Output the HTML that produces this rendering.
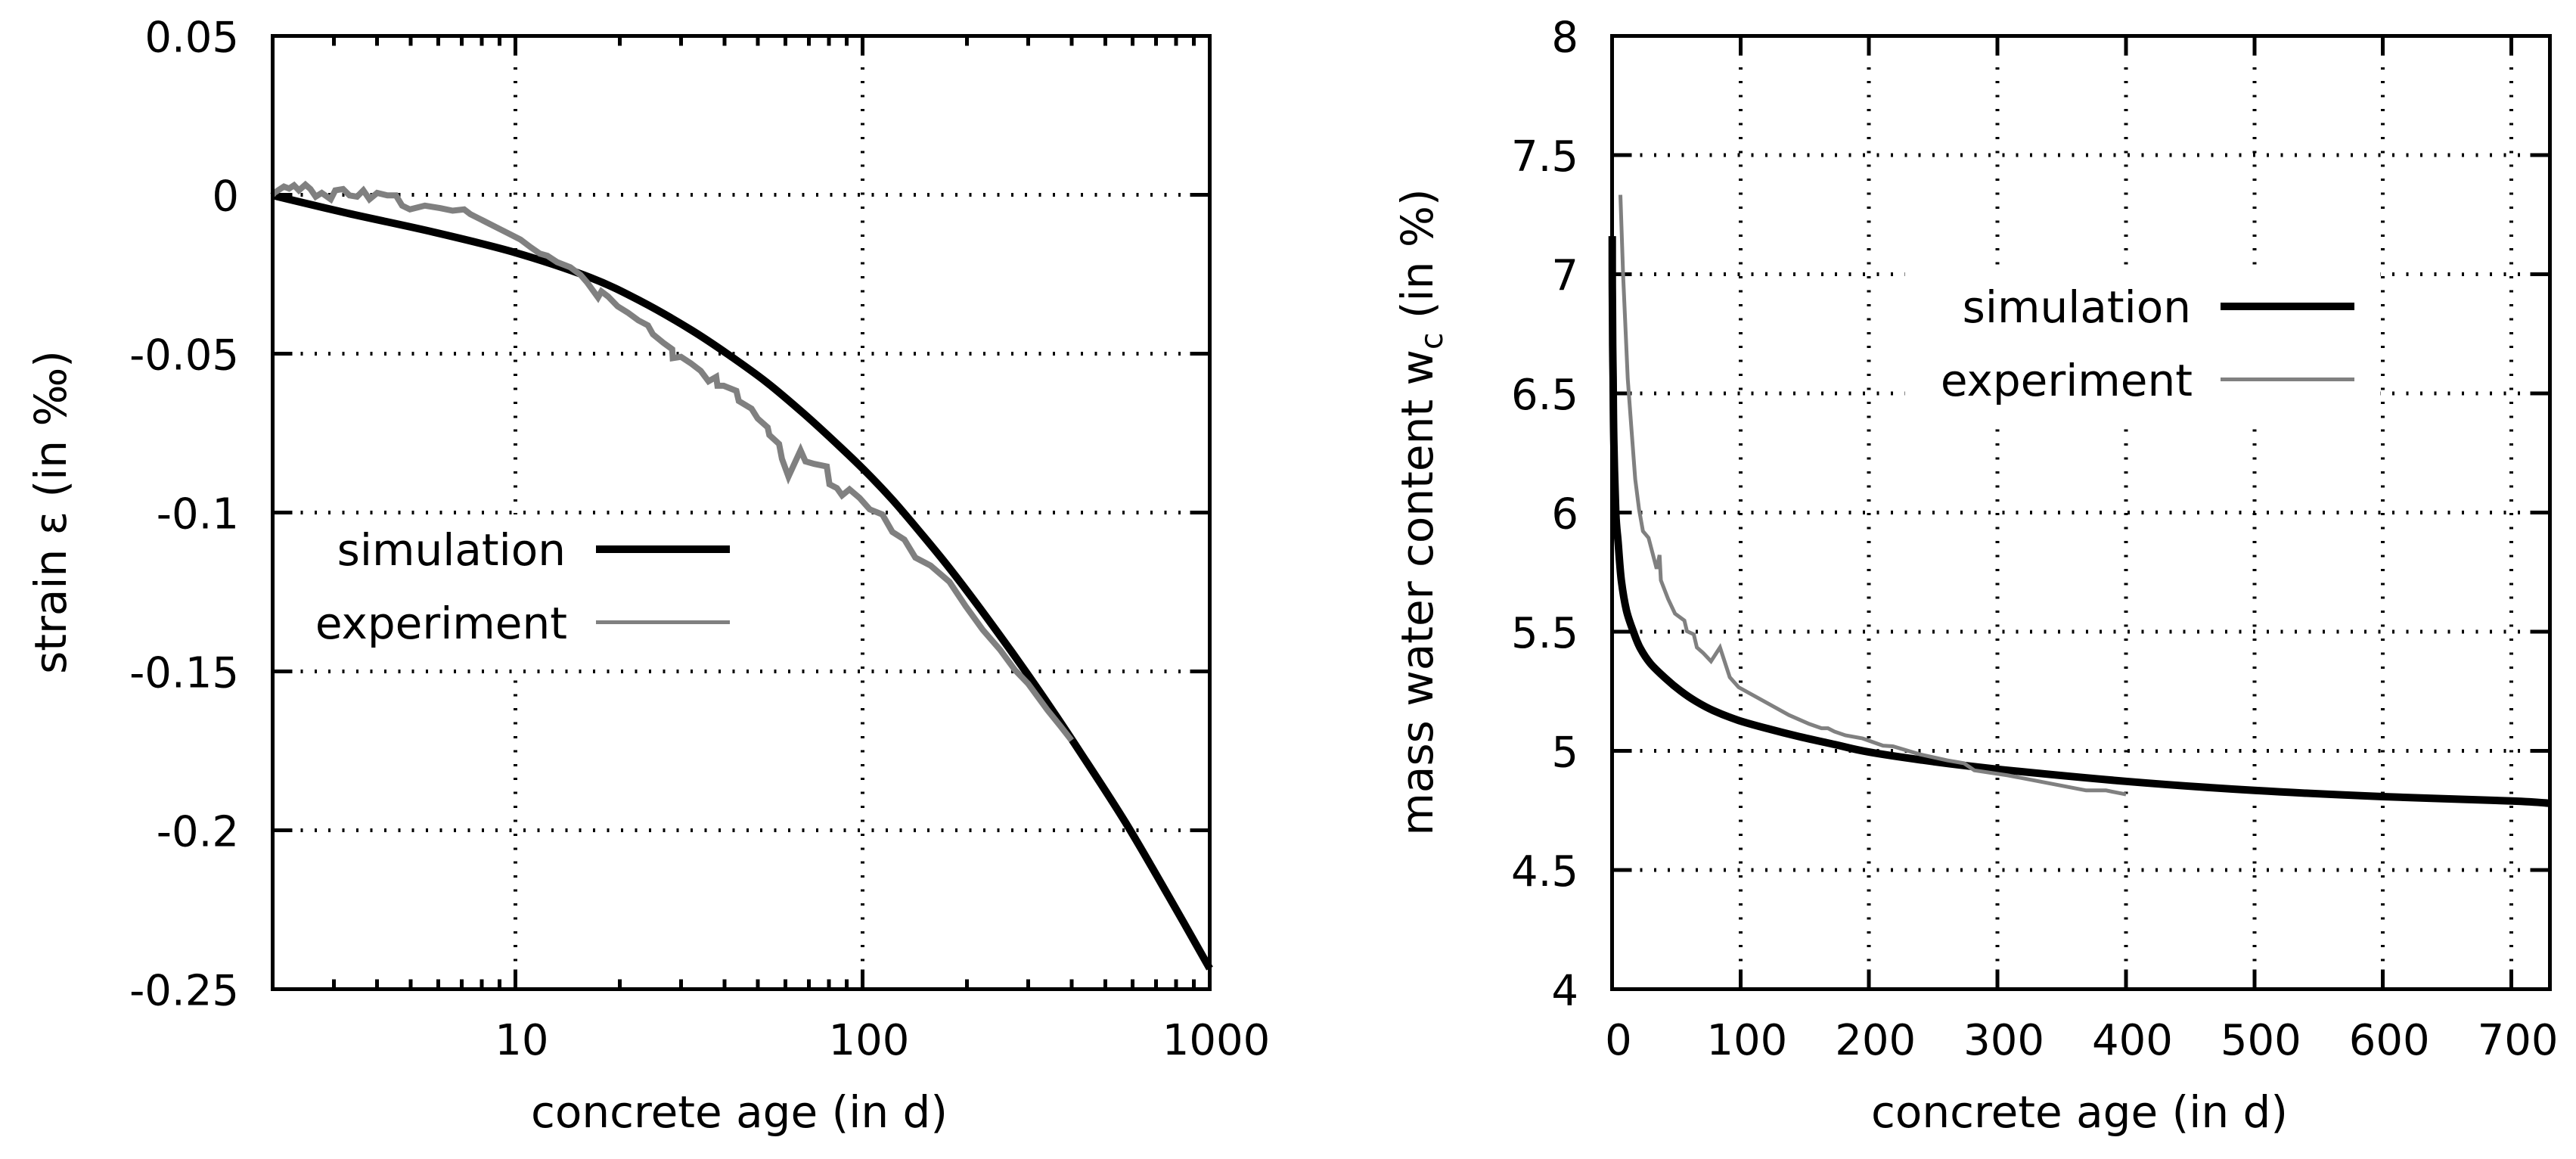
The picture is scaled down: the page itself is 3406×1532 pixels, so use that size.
<!DOCTYPE html>
<html lang="en">
<head>
<meta charset="utf-8">
<title>Concrete strain and water content versus age</title>
<style>
html,body{margin:0;padding:0;background:#fff;}
svg{display:block;}
text{font-family:"DejaVu Sans","Liberation Sans",sans-serif;font-size:56px;fill:#000;}
text.big{font-size:58px;}
</style>
</head>
<body>
<svg id="figure" xmlns="http://www.w3.org/2000/svg" width="3406" height="1532" viewBox="0 0 3406 1532">
  <rect x="0" y="0" width="3406" height="1532" fill="#fff"/>

  <g id="strain-chart">
    <g id="strain-grid"></g>
    <rect x="363" y="680" width="640" height="204" fill="#fff"/>
    <g id="strain-ticks"></g>
    <g id="strain-series"></g>
    <rect x="360.5" y="47.5" width="1239" height="1260" fill="none" stroke="#000" stroke-width="5" shape-rendering="crispEdges"/>
    <g id="strain-labels"></g>
    <text class="big" transform="translate(87 677) rotate(-90)" text-anchor="middle">strain ε (in ‰)</text>
    <text class="big" x="977.5" y="1490" text-anchor="middle">concrete age (in d)</text>
    <g>
      <text class="big" x="748" y="747" text-anchor="end">simulation</text>
      <line x1="788" y1="726" x2="965" y2="726" stroke="#000" stroke-width="10" shape-rendering="crispEdges"/>
      <text class="big" x="750" y="844" text-anchor="end">experiment</text>
      <line x1="788" y1="822.5" x2="965" y2="822.5" stroke="#808080" stroke-width="5" shape-rendering="crispEdges"/>
    </g>
  </g>

  <g id="water-chart">
    <g id="water-grid"></g>
    <rect x="2519" y="358" width="628" height="195" fill="#fff"/>
    <g id="water-ticks"></g>
    <rect x="2131.5" y="47.5" width="1240" height="1260" fill="none" stroke="#000" stroke-width="5" shape-rendering="crispEdges"/>
    <g id="water-series"></g>
    <g id="water-labels"></g>
    <text class="big" transform="translate(1894 677) rotate(-90)" text-anchor="middle">mass water content w<tspan dy="13" font-size="41">c</tspan><tspan dy="-13"> (in %)</tspan></text>
    <text class="big" x="2749.5" y="1490" text-anchor="middle">concrete age (in d)</text>
    <g>
      <text class="big" x="2897" y="426" text-anchor="end">simulation</text>
      <line x1="2936" y1="405" x2="3113" y2="405" stroke="#000" stroke-width="10" shape-rendering="crispEdges"/>
      <text class="big" x="2899" y="523" text-anchor="end">experiment</text>
      <line x1="2936" y1="501.5" x2="3113" y2="501.5" stroke="#808080" stroke-width="5" shape-rendering="crispEdges"/>
    </g>
  </g>
</svg>

<script>
// ---- strain chart data (left) ----
const strainXTicks = [10, 100, 1000];
const strainXTickLabels = ['10', '100', '1000'];
const strainXMinorTicks = [2, 3, 4, 5, 6, 7, 8, 9, 20, 30, 40, 50, 60, 70, 80, 90, 200, 300, 400, 500, 600, 700, 800, 900];
const strainYTicks = [0.05, 0, -0.05, -0.1, -0.15, -0.2, -0.25];
const strainYTickLabels = ['0.05', '0', '-0.05', '-0.1', '-0.15', '-0.2', '-0.25'];
const strainSimAge = [2, 3.29, 5.85, 10, 16.4, 23, 32, 41.1, 52.8, 67.8, 87.1, 103, 122, 144, 181, 242, 322, 430, 573, 762, 1000];
const strainSimValue = [-0.0002, -0.0058, -0.0118, -0.0182, -0.026, -0.0335, -0.04245, -0.0503, -0.0589, -0.0689, -0.0798, -0.0875, -0.096, -0.1052, -0.1185, -0.1369, -0.156, -0.1765, -0.1977, -0.2208, -0.2435];
const strainExpAge = [2, 2.02, 2.155, 2.23, 2.305, 2.38, 2.485, 2.57, 2.66, 2.77, 2.94, 3.03, 3.19, 3.33, 3.5, 3.65, 3.8, 4.0, 4.28, 4.53, 4.72, 4.97, 5.49, 6.07, 6.6, 7.12, 7.42, 8.07, 8.77, 9.53, 10.35, 11.07, 11.76, 12.37, 13.2, 14.4, 15.4, 16.1, 17.3, 17.7, 18.5, 19.7, 21.1, 22.6, 24.1, 24.9, 26.7, 28.3, 28.4, 30, 32, 34.2, 36, 37.9, 38.2, 39.8, 43.3, 44, 47.9, 49.9, 53.3, 53.9, 57.5, 58.6, 61.2, 63.6, 66.3, 68.5, 72.6, 78.9, 80.3, 84.4, 87.3, 91.7, 98.1, 104.9, 114, 121.9, 132, 142, 157, 178, 198, 222, 249, 275, 300, 341, 372, 400];
const strainExpValue = [-0.0001, 0.0006, 0.0026, 0.00195, 0.003, 0.0014, 0.0032, 0.0018, -0.0006, 0.0006, -0.0014, 0.0014, 0.0018, -0.0002, -0.0006, 0.0014, -0.0014, 0.0006, -0.0002, -0.0002, -0.0034, -0.0046, -0.0034, -0.0042, -0.005, -0.0046, -0.0061, -0.0081, -0.0101, -0.0121, -0.0141, -0.0165, -0.0185, -0.0192, -0.0212, -0.0228, -0.0252, -0.0276, -0.0323, -0.0304, -0.032, -0.0351, -0.0371, -0.0395, -0.0411, -0.0439, -0.0466, -0.0486, -0.0514, -0.051, -0.053, -0.0554, -0.0587, -0.0573, -0.0601, -0.0601, -0.0617, -0.0649, -0.0673, -0.0704, -0.0732, -0.0756, -0.0784, -0.0831, -0.0887, -0.0847, -0.0804, -0.0839, -0.0847, -0.0855, -0.0911, -0.0923, -0.0946, -0.0927, -0.0954, -0.099, -0.1006, -0.1061, -0.1085, -0.1142, -0.1167, -0.1218, -0.1294, -0.1369, -0.1432, -0.1496, -0.1539, -0.1622, -0.1673, -0.1717];

// ---- water chart data (right) ----
const waterXTicks = [0, 100, 200, 300, 400, 500, 600, 700];
const waterXTickLabels = ['0', '100', '200', '300', '400', '500', '600', '700'];
const waterYTicks = [8, 7.5, 7, 6.5, 6, 5.5, 5, 4.5, 4];
const waterYTickLabels = ['8', '7.5', '7', '6.5', '6', '5.5', '5', '4.5', '4'];
const waterSimAge = [0.1, 0.2, 0.5, 0.8, 1.35, 2.9, 4.7, 7.2, 11.2, 17, 22, 29.8, 41.6, 53.4, 65.2, 78.9, 98.4, 122, 145.6, 173, 200, 250, 300, 400, 500, 600, 700, 730];
const waterSimValue = [7.16, 6.95, 6.7, 6.56, 6.3, 6.0, 5.875, 5.716, 5.589, 5.494, 5.43, 5.367, 5.304, 5.251, 5.208, 5.169, 5.128, 5.092, 5.06, 5.027, 4.995, 4.955, 4.923, 4.872, 4.834, 4.808, 4.79, 4.78];
const waterExpAge = [6.5, 8.6, 12.2, 15.1, 18, 21, 24, 28.4, 34.7, 37, 38, 43.6, 49, 56.3, 58.3, 63.6, 66, 71, 77, 84, 91.6, 98.5, 114, 137.7, 153.4, 163, 168, 173, 181.6, 195, 210.9, 218.6, 239.7, 260.9, 274, 282, 308, 345, 369, 384.5, 400];
const waterExpValue = [7.333, 6.996, 6.5625, 6.351, 6.14, 6.013, 5.922, 5.894, 5.764, 5.822, 5.716, 5.637, 5.576, 5.547, 5.502, 5.489, 5.434, 5.41, 5.376, 5.434, 5.309, 5.267, 5.221, 5.15, 5.113, 5.095, 5.095, 5.081, 5.065, 5.052, 5.022, 5.019, 4.985, 4.96, 4.948, 4.918, 4.897, 4.859, 4.834, 4.834, 4.817];

// ---- axis functions ----
const SVGNS = 'http://www.w3.org/2000/svg';
const plotTop = 47.5, plotBottom = 1307.5;
const strainLeft = 360.5, strainRight = 1599.5;
const waterLeft = 2131.5, waterRight = 3371.5;

function strainX(age) { return strainLeft + (Math.log10(age) - Math.log10(2)) / (3 - Math.log10(2)) * (strainRight - strainLeft); }
function strainY(v) { return plotTop + (0.05 - v) / 0.3 * (plotBottom - plotTop); }
function waterX(age) { return waterLeft + age / 730 * (waterRight - waterLeft); }
function waterY(v) { return plotTop + (8 - v) / 4 * (plotBottom - plotTop); }

function makeLine(parent, x1, y1, x2, y2, width, dash) {
  const el = document.createElementNS(SVGNS, 'line');
  el.setAttribute('x1', x1);
  el.setAttribute('y1', y1);
  el.setAttribute('x2', x2);
  el.setAttribute('y2', y2);
  el.setAttribute('stroke', '#000');
  el.setAttribute('stroke-width', width);
  el.setAttribute('shape-rendering', 'crispEdges');
  if (dash) el.setAttribute('stroke-dasharray', dash);
  parent.appendChild(el);
  return el;
}

function makeText(parent, x, y, anchor, str) {
  const el = document.createElementNS(SVGNS, 'text');
  el.setAttribute('x', x);
  el.setAttribute('y', y);
  el.setAttribute('text-anchor', anchor);
  el.textContent = str;
  parent.appendChild(el);
  return el;
}

function makeCurve(parent, xs, ys, xFn, yFn, color, width) {
  const el = document.createElementNS(SVGNS, 'polyline');
  el.setAttribute('points', xs.map((a, i) => xFn(a).toFixed(1) + ',' + yFn(ys[i]).toFixed(1)).join(' '));
  el.setAttribute('fill', 'none');
  el.setAttribute('stroke', color);
  el.setAttribute('stroke-width', width);
  el.setAttribute('stroke-linejoin', 'miter');
  el.setAttribute('stroke-miterlimit', '3');
  parent.appendChild(el);
  return el;
}

// smooth curve through the data points (Catmull-Rom converted to cubic Bezier)
function makeSmoothCurve(parent, xs, ys, xFn, yFn, color, width) {
  const pts = xs.map((a, i) => [xFn(a), yFn(ys[i])]);
  let d = 'M' + pts[0][0].toFixed(1) + ' ' + pts[0][1].toFixed(1);
  for (let i = 0; i < pts.length - 1; i++) {
    const p0 = pts[Math.max(i - 1, 0)], p1 = pts[i], p2 = pts[i + 1], p3 = pts[Math.min(i + 2, pts.length - 1)];
    const c1x = p1[0] + (p2[0] - p0[0]) / 6, c1y = p1[1] + (p2[1] - p0[1]) / 6;
    const c2x = p2[0] - (p3[0] - p1[0]) / 6, c2y = p2[1] - (p3[1] - p1[1]) / 6;
    d += ' C' + c1x.toFixed(1) + ' ' + c1y.toFixed(1) + ' ' + c2x.toFixed(1) + ' ' + c2y.toFixed(1) + ' ' + p2[0].toFixed(1) + ' ' + p2[1].toFixed(1);
  }
  const el = document.createElementNS(SVGNS, 'path');
  el.setAttribute('d', d);
  el.setAttribute('fill', 'none');
  el.setAttribute('stroke', color);
  el.setAttribute('stroke-width', width);
  parent.appendChild(el);
  return el;
}

const DOT = '3 15.42';
const MAJOR = 26, MINOR = 13, TICK_W = 5;

function drawChart(cfg) {
  const grid = document.getElementById(cfg.prefix + '-grid');
  const ticks = document.getElementById(cfg.prefix + '-ticks');
  const labels = document.getElementById(cfg.prefix + '-labels');

  cfg.xTicks.forEach((t, i) => {
    const x = cfg.xFn(t);
    if (x > cfg.left + 1 && x < cfg.right - 1) {
      const g = makeLine(grid, x, plotBottom, x, plotTop, 5, DOT);
      
      
    }
    const tb = makeLine(ticks, x, plotBottom, x, plotBottom - MAJOR, TICK_W);
    
    
    const tt = makeLine(ticks, x, plotTop, x, plotTop + MAJOR, TICK_W);
    
    
    const lab = makeText(labels, x + 8.5, 1394, 'middle', cfg.xLabels[i]);
    
    
  });

  (cfg.xMinor || []).forEach(t => {
    const x = cfg.xFn(t);
    const mb = makeLine(ticks, x, plotBottom, x, plotBottom - MINOR, TICK_W);
    
    
    const mt = makeLine(ticks, x, plotTop, x, plotTop + MINOR, TICK_W);
    
    
  });

  cfg.yTicks.forEach((t, i) => {
    const y = cfg.yFn(t);
    if (y > plotTop + 1 && y < plotBottom - 1) {
      const g = makeLine(grid, cfg.left, y, cfg.right, y, 5, DOT);
      
      
    }
    const tl = makeLine(ticks, cfg.left, y, cfg.left + MAJOR, y, TICK_W);
    
    
    const tr = makeLine(ticks, cfg.right, y, cfg.right - MAJOR, y, TICK_W);
    
    
    const lab = makeText(labels, cfg.labelX, y + 21, 'end', cfg.yLabels[i]);
    
    
  });

  const series = document.getElementById(cfg.prefix + '-series');
  const sim = makeSmoothCurve(series, cfg.simX, cfg.simY, cfg.xFn, cfg.yFn, '#000', 10);
  
  
  const exp = makeCurve(series, cfg.expX, cfg.expY, cfg.xFn, cfg.yFn, '#808080', cfg.expWidth);
  
  
}

drawChart({
  prefix: 'strain', left: strainLeft, right: strainRight, labelX: 316, expWidth: 8,
  xFn: strainX, yFn: strainY,
  xTicks: strainXTicks, xLabels: strainXTickLabels, xMinor: strainXMinorTicks,
  yTicks: strainYTicks, yLabels: strainYTickLabels,
  simX: strainSimAge, simY: strainSimValue, expX: strainExpAge, expY: strainExpValue
});

drawChart({
  prefix: 'water', left: waterLeft, right: waterRight, labelX: 2087, expWidth: 5,
  xFn: waterX, yFn: waterY,
  xTicks: waterXTicks, xLabels: waterXTickLabels,
  yTicks: waterYTicks, yLabels: waterYTickLabels,
  simX: waterSimAge, simY: waterSimValue, expX: waterExpAge, expY: waterExpValue
});
</script>
</body>
</html>
